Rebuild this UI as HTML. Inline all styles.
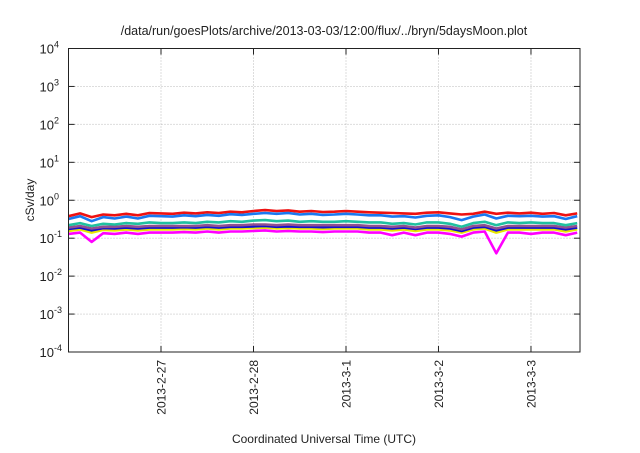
<!DOCTYPE html>
<html><head><meta charset="utf-8"><style>
body{margin:0;background:#fff}
svg text{font-family:"Liberation Sans",Arial,sans-serif;fill:#222}
</style></head><body>
<svg id="chart" width="640" height="448" viewBox="0 0 640 448">
<text x="324" y="35" font-size="12.5" text-anchor="middle">/data/run/goesPlots/archive/2013-03-03/12:00/flux/../bryn/5daysMoon.plot</text>
<g id="grid"></g>
<g id="series"></g>
<rect x="68.5" y="48.5" width="511.5" height="303.5" fill="none" stroke="#222" stroke-width="1"/>
<g id="axes"></g>
<text transform="translate(34,200) rotate(-90)" font-size="12" text-anchor="middle">cSv/day</text>
<text x="324" y="443" font-size="12" text-anchor="middle">Coordinated Universal Time (UTC)</text>
</svg>
<script>
const yExponents=[-4,-3,-2,-1,0,1,2,3,4];
const xTickLabels=["2013-2-27","2013-2-28","2013-3-1","2013-3-2","2013-3-3"];
const xTickDays=[1,2,3,4,5];
const stepDays=0.125;
const red=[0.38,0.45,0.36,0.42,0.40,0.44,0.40,0.46,0.45,0.44,0.47,0.45,0.48,0.46,0.50,0.48,0.52,0.55,0.52,0.54,0.50,0.52,0.49,0.50,0.52,0.50,0.48,0.47,0.46,0.45,0.44,0.47,0.48,0.45,0.42,0.44,0.50,0.44,0.47,0.45,0.47,0.44,0.46,0.40,0.45];
const blue=[0.32,0.38,0.28,0.36,0.33,0.37,0.33,0.39,0.38,0.37,0.40,0.38,0.41,0.39,0.43,0.41,0.44,0.46,0.44,0.46,0.42,0.44,0.41,0.42,0.44,0.42,0.40,0.40,0.37,0.38,0.35,0.39,0.40,0.36,0.30,0.37,0.42,0.33,0.39,0.38,0.39,0.37,0.38,0.32,0.38];
const teal=[0.22,0.25,0.21,0.24,0.23,0.25,0.24,0.26,0.25,0.25,0.26,0.25,0.27,0.26,0.28,0.27,0.29,0.30,0.28,0.29,0.27,0.28,0.27,0.27,0.28,0.27,0.26,0.26,0.24,0.25,0.23,0.26,0.26,0.24,0.20,0.25,0.27,0.22,0.26,0.25,0.26,0.25,0.25,0.22,0.25];
const purple=[0.19,0.21,0.18,0.20,0.20,0.21,0.20,0.21,0.21,0.21,0.21,0.21,0.22,0.21,0.22,0.22,0.23,0.23,0.22,0.23,0.22,0.22,0.22,0.22,0.22,0.22,0.21,0.21,0.20,0.21,0.19,0.21,0.21,0.20,0.17,0.21,0.22,0.18,0.21,0.21,0.21,0.21,0.21,0.19,0.21];
const darkblue=[0.175,0.19,0.16,0.185,0.18,0.19,0.18,0.19,0.19,0.19,0.195,0.19,0.2,0.19,0.2,0.2,0.205,0.21,0.2,0.205,0.2,0.2,0.195,0.2,0.2,0.2,0.19,0.19,0.18,0.19,0.175,0.19,0.19,0.18,0.155,0.19,0.2,0.16,0.19,0.19,0.19,0.19,0.19,0.17,0.19];
const yellow=[0.155,0.17,0.14,0.165,0.16,0.17,0.16,0.17,0.17,0.17,0.175,0.17,0.18,0.17,0.18,0.18,0.185,0.19,0.18,0.185,0.18,0.18,0.175,0.18,0.18,0.18,0.17,0.17,0.16,0.17,0.155,0.17,0.17,0.16,0.14,0.17,0.18,0.14,0.17,0.17,0.17,0.17,0.17,0.15,0.17];
const magenta=[0.13,0.14,0.08,0.135,0.13,0.14,0.13,0.14,0.14,0.14,0.145,0.14,0.15,0.14,0.15,0.15,0.155,0.16,0.15,0.155,0.15,0.15,0.145,0.15,0.15,0.15,0.14,0.14,0.12,0.14,0.12,0.14,0.14,0.13,0.11,0.14,0.15,0.04,0.14,0.14,0.13,0.14,0.14,0.12,0.14];
const seriesList=[[magenta,"#ff00ff"],[yellow,"#e8e800"],[darkblue,"#1010d0"],[purple,"#905090"],[teal,"#20c0a0"],[red,"#ee1111"],[blue,"#1a78f0"]];
const L=68.5,R=580,T=48.5,B=352,D0=0,D1=5.53;
const xs=d=>L+(d-D0)/(D1-D0)*(R-L);
const ys=v=>B-(Math.log10(v)+4)/8*(B-T);
const NS="http://www.w3.org/2000/svg";
function mk(tag,attrs,parent){const e=document.createElementNS(NS,tag);for(const k in attrs)e.setAttribute(k,attrs[k]);parent.appendChild(e);return e;}
const grid=document.getElementById('grid'),axes=document.getElementById('axes'),ser=document.getElementById('series');
yExponents.forEach(p=>{
  const y=ys(Math.pow(10,p));
  if(p>-4&&p<4){const g=mk('line',{x1:L,x2:R,y1:y,y2:y,stroke:'#bbb','stroke-dasharray':'1,2'},grid);
  
  }
  const t1=mk('line',{x1:L,x2:L+6,y1:y,y2:y,stroke:'#222'},axes);
  
  
  const t2=mk('line',{x1:R-6,x2:R,y1:y,y2:y,stroke:'#222'},axes);
  
  
  const tx=mk('text',{x:L-26,y:y+5,'font-size':'13','text-anchor':'end'},axes);
  
  
  tx.innerHTML='10<tspan dy="-6" font-size="9">'+p+'</tspan>';
  tx.setAttribute('text-anchor','start');tx.setAttribute('x',L-29);
});
xTickDays.forEach((d,i)=>{
  const x=xs(d);
  const g=mk('line',{x1:x,x2:x,y1:T,y2:B,stroke:'#bbb','stroke-dasharray':'1,2'},grid);
  
  
  const t1=mk('line',{x1:x,x2:x,y1:B-6,y2:B,stroke:'#222'},axes);
  
  
  const t2=mk('line',{x1:x,x2:x,y1:T,y2:T+6,stroke:'#222'},axes);
  
  
  const tx=mk('text',{transform:`translate(${x+4.5},360) rotate(-90)`,'font-size':'12','text-anchor':'end'},axes);
  
  
  tx.textContent=xTickLabels[i];
});
seriesList.forEach(([arr,c])=>{
  const pts=arr.map((v,i)=>xs(i*stepDays).toFixed(1)+','+ys(v).toFixed(1)).join(' ');
  const pl=mk('polyline',{points:pts,fill:'none',stroke:c,'stroke-width':'2.6','stroke-linejoin':'round'},ser);
  
  
});
</script>
</body></html>
